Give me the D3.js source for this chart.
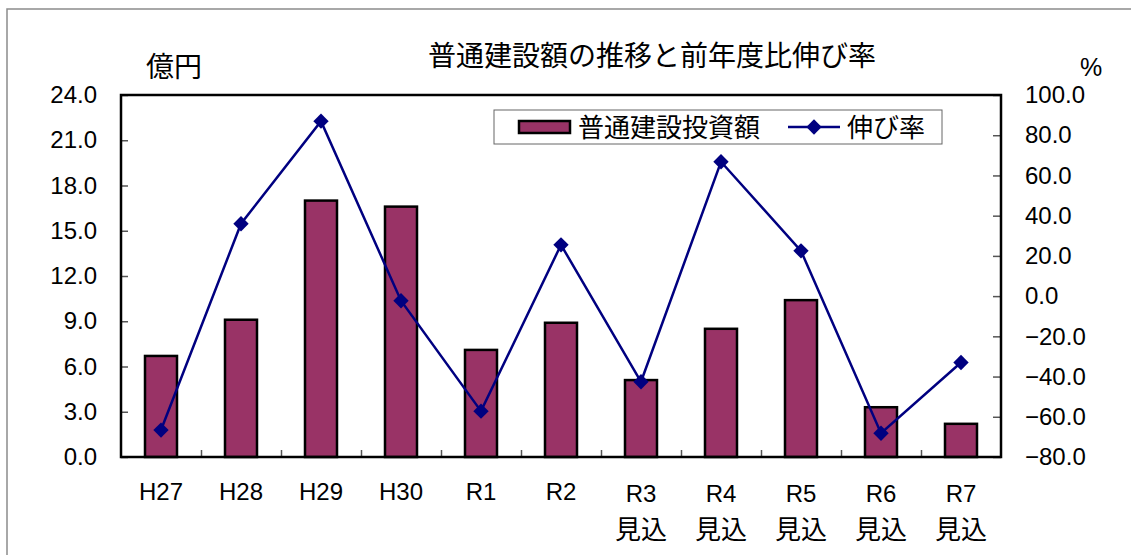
<!DOCTYPE html>
<html>
<head>
<meta charset="utf-8">
<script src="https://cdn.jsdelivr.net/npm/d3@7"></script>
<style>
  body { margin: 0; background: #fff; }
  svg { display: block; }
  text { fill: #000; }
</style>
</head>
<body>
<svg id="chart" width="1131" height="555"></svg>
<script>
// data
const categories = ['H27', 'H28', 'H29', 'H30', 'R1', 'R2', 'R3', 'R4', 'R5', 'R6', 'R7'];
const subLabels  = ['', '', '', '', '', '', '見込', '見込', '見込', '見込', '見込'];
const investment = [6.7, 9.1, 17.0, 16.6, 7.1, 8.9, 5.1, 8.5, 10.4, 3.3, 2.2];   // 億円
const growthRate = [-66.6, 36.0, 87.0, -2.3, -57.2, 25.5, -42.6, 66.8, 22.5, -68.2, -33.0]; // %
const leftTicks  = [0, 3, 6, 9, 12, 15, 18, 21, 24];
const rightTicks = [-80, -60, -40, -20, 0, 20, 40, 60, 80, 100];

const barColor  = '#993366';
const lineColor = '#000080';
const numFont = '"Liberation Sans", Arial, sans-serif';
const jpFont  = '"Noto Sans CJK JP", "Noto Sans", sans-serif';

// plot area
const plot = { left: 121, right: 1001, top: 95, bottom: 457 };

const svg = d3.select('#chart');

// outer frame of the chart object
svg.append('rect')
    .attr('x', 7).attr('y', 9)
    .attr('width', 1140).attr('height', 560)
    .attr('fill', 'none')
    .attr('stroke', '#8c8c8c')
    .attr('stroke-width', 1.5);

const x = d3.scaleBand()
    .domain(categories)
    .range([plot.left, plot.right])
    .paddingInner(0.6)
    .paddingOuter(0.3);

const xEdge = d3.scaleLinear().domain([0, categories.length]).range([plot.left, plot.right]);

const yLeft = d3.scaleLinear().domain([0, 24]).range([plot.bottom, plot.top]);
const yRight = d3.scaleLinear().domain([-80, 100]).range([plot.bottom, plot.top]);

// axes
const gLeft = svg.append('g')
    .attr('transform', `translate(${plot.left},0)`)
    .call(d3.axisLeft(yLeft).tickValues(leftTicks).tickFormat(d3.format('.1f'))
        .tickSize(-7).tickPadding(24));

const gRight = svg.append('g')
    .attr('transform', `translate(${plot.right},0)`)
    .call(d3.axisRight(yRight).tickValues(rightTicks).tickFormat(d3.format('.1f'))
        .tickSize(-8).tickPadding(24));

const gBottom = svg.append('g')
    .attr('transform', `translate(0,${plot.bottom})`)
    .call(d3.axisBottom(xEdge).tickValues(d3.range(1, categories.length))
        .tickSize(-7).tickFormat(''));

[gLeft, gRight, gBottom].forEach(g => {
    g.select('.domain').remove();
    g.selectAll('.tick line').attr('stroke', '#555').attr('stroke-width', 1.5);
    g.selectAll('.tick text')
        .attr('font-family', numFont)
        .attr('font-size', 24)
        .attr('fill', '#000');
});

// bars
svg.append('g').selectAll('rect')
    .data(investment)
    .join('rect')
    .attr('x', (d, i) => x(categories[i]))
    .attr('y', d => yLeft(d))
    .attr('width', x.bandwidth())
    .attr('height', d => yLeft(0) - yLeft(d))
    .attr('fill', barColor)
    .attr('stroke', '#000')
    .attr('stroke-width', 2.5);

// plot border
svg.append('rect')
    .attr('x', plot.left).attr('y', plot.top)
    .attr('width', plot.right - plot.left)
    .attr('height', plot.bottom - plot.top)
    .attr('fill', 'none')
    .attr('stroke', '#000')
    .attr('stroke-width', 2.5);

// growth line
const cx = (d, i) => x(categories[i]) + x.bandwidth() / 2;
const line = d3.line().x(cx).y(d => yRight(d));

svg.append('path')
    .datum(growthRate)
    .attr('d', line)
    .attr('fill', 'none')
    .attr('stroke', lineColor)
    .attr('stroke-width', 2.5);

const diamond = d3.symbol().type(d3.symbolDiamond2).size(150);
svg.append('g').selectAll('path')
    .data(growthRate)
    .join('path')
    .attr('d', diamond)
    .attr('transform', (d, i) => `translate(${cx(d, i)},${yRight(d)})`)
    .attr('fill', lineColor);

// category labels
const labels = svg.append('g');
categories.forEach((c, i) => {
    const xc = x(c) + x.bandwidth() / 2;
    const t = labels.append('text')
        .attr('text-anchor', 'middle')
        .attr('font-size', 24);
    t.append('tspan')
        .attr('x', xc)
        .attr('y', subLabels[i] ? 502 : 500)
        .attr('font-family', numFont)
        .text(c);
    if (subLabels[i]) {
        t.append('tspan')
            .attr('x', xc)
            .attr('y', 539)
            .attr('font-family', jpFont)
            .attr('font-size', 26)
            .text(subLabels[i]);
    }
});

// titles
svg.append('text')
    .attr('x', 652).attr('y', 66)
    .attr('text-anchor', 'middle')
    .attr('font-family', jpFont)
    .attr('font-size', 28)
    .text('普通建設額の推移と前年度比伸び率');

svg.append('text')
    .attr('x', 174).attr('y', 77)
    .attr('text-anchor', 'middle')
    .attr('font-family', jpFont)
    .attr('font-size', 28)
    .text('億円');

svg.append('text')
    .attr('x', 1091).attr('y', 76)
    .attr('text-anchor', 'middle')
    .attr('font-family', numFont)
    .attr('font-size', 25)
    .text('%');

// legend
const legend = svg.append('g');
legend.append('rect')
    .attr('x', 494).attr('y', 110)
    .attr('width', 448).attr('height', 34)
    .attr('fill', '#fff')
    .attr('stroke', '#666')
    .attr('stroke-width', 1);
legend.append('rect')
    .attr('x', 519).attr('y', 121)
    .attr('width', 51).attr('height', 12)
    .attr('fill', barColor)
    .attr('stroke', '#000')
    .attr('stroke-width', 2.5);
legend.append('text')
    .attr('x', 578).attr('y', 137)
    .attr('font-family', jpFont)
    .attr('font-size', 26)
    .text('普通建設投資額');
legend.append('line')
    .attr('x1', 788).attr('x2', 840)
    .attr('y1', 127).attr('y2', 127)
    .attr('stroke', lineColor)
    .attr('stroke-width', 2.5);
legend.append('path')
    .attr('d', diamond)
    .attr('transform', 'translate(814,127)')
    .attr('fill', lineColor);
legend.append('text')
    .attr('x', 847).attr('y', 137)
    .attr('font-family', jpFont)
    .attr('font-size', 26)
    .text('伸び率');
</script>
</body>
</html>
